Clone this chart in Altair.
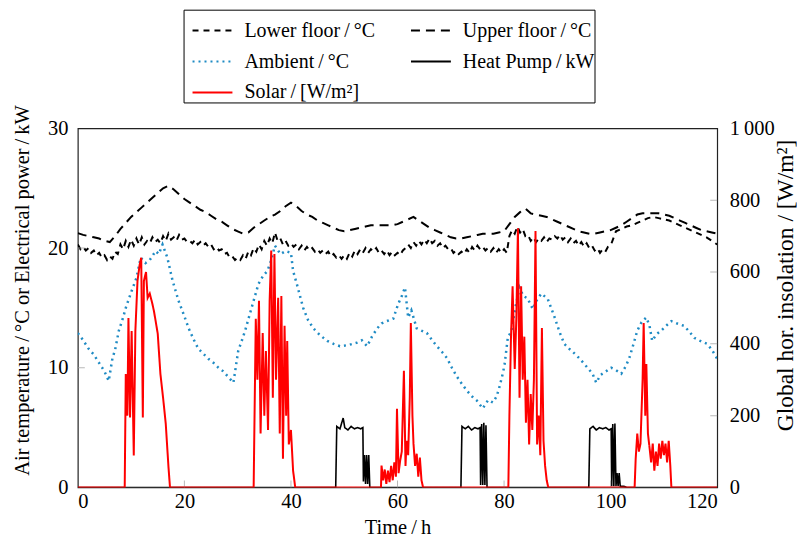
import altair as alt
import pandas as pd

# legend order is column-major: col 1 = Lower, Ambient, Solar; col 2 = Upper, Heat Pump
SERIES = ["Lower floor\u2009/\u2009°C", "Ambient\u2009/\u2009°C", "Solar\u2009/\u2009[W/m²]",
          "Upper floor\u2009/\u2009°C", "Heat Pump\u2009/\u2009kW"]
COLORS = ["#000000", "#1f8bc4", "#ff0000", "#000000", "#000000"]
DASHES = [[6, 5], [2, 4], [1, 0], [9, 6], [1, 0]]

# Lower floor (half-hourly 0..100, then hourly 101..120)
lower_t = [i * 0.5 for i in range(201)] + list(range(101, 121))
lower_v = [
    20.3, 19.9, 20.1, 19.8, 20.0, 19.6, 19.8, 19.4, 19.6, 19.2, 19.4, 19.0, 19.3, 19.1, 19.7, 19.5, 20.3, 19.9, 20.6, 20.1,
    20.7, 20.2, 20.8, 20.3, 20.9, 20.3, 20.6, 20.4, 20.9, 20.5, 20.7, 20.4, 21.0, 20.6, 21.2, 20.7, 20.9, 20.6, 21.1, 20.7,
    20.8, 20.5, 20.6, 20.4, 20.7, 20.3, 20.5, 20.2, 20.4, 20.1, 20.3, 19.9, 20.1, 19.8, 19.9, 19.5, 19.6, 19.2, 19.3, 19.0,
    19.2, 19.0, 19.4, 19.1, 19.7, 19.4, 20.0, 19.7, 20.3, 19.9, 20.6, 20.2, 20.8, 20.4, 21.3, 20.6, 20.8, 20.3, 20.6, 20.2,
    20.4, 20.1, 20.3, 19.9, 20.2, 19.8, 20.1, 19.8, 20.0, 19.7, 19.9, 19.6, 19.8, 19.5, 19.7, 19.3, 19.5, 19.2, 19.4, 19.1,
    19.4, 19.1, 19.6, 19.3, 19.8, 19.5, 19.9, 19.6, 20.0, 19.6, 19.9, 19.7, 20.0, 19.6, 19.8, 19.5, 19.8, 19.4, 19.7, 19.4,
    19.6, 19.4, 19.8, 20.0, 20.3, 20.0, 20.5, 20.2, 20.6, 20.3, 20.7, 20.4, 20.8, 20.4, 20.6, 20.2, 20.4, 20.0, 20.2, 19.9,
    20.0, 19.6, 19.8, 19.5, 19.7, 19.5, 19.9, 19.6, 20.1, 19.8, 20.2, 19.9, 20.1, 19.8, 20.0, 19.7, 20.0, 19.6, 19.9, 19.6,
    19.9, 19.6, 21.0, 21.5, 21.2, 21.8, 21.3, 21.6, 21.0, 21.1, 20.6, 20.9, 20.5, 20.8, 20.6, 20.9, 20.5, 20.8, 20.7, 21.0,
    20.8, 21.1, 20.7, 20.9, 20.5, 20.8, 20.4, 20.6, 20.2, 20.5, 20.1, 20.4, 20.0, 20.2, 19.8, 20.0, 19.6, 19.9, 19.7, 20.1,
    20.2,
    21.4, 21.6, 21.8, 21.9, 22.1, 22.3, 22.5, 22.6, 22.5, 22.4, 22.3, 22.1, 21.9, 21.7, 21.5, 21.3, 21.1, 20.9, 20.6, 20.3,
]

upper_t = list(range(121))
upper_v = [
    21.25, 21.1, 21.0, 20.9, 20.8, 20.6, 20.5, 21.0, 21.6, 22.1, 22.6, 23.0, 23.4, 23.8, 24.2, 24.6, 25.0, 25.2, 24.9, 24.5,
    24.1, 23.8, 23.5, 23.2, 23.0, 22.7, 22.4, 22.2, 21.9, 21.6, 21.4, 21.2, 21.3, 21.7, 22.0, 22.3, 22.6, 22.8, 23.1, 23.5,
    23.8, 23.5, 23.1, 22.8, 22.6, 22.3, 22.1, 21.9, 21.7, 21.5, 21.4, 21.5, 21.6, 21.7, 21.8, 21.9, 21.9, 21.9, 21.9, 21.9,
    22.0, 22.2, 22.4, 22.6, 22.3, 22.0, 21.7, 21.5, 21.3, 21.1, 20.9, 20.8, 20.8, 20.9, 21.0, 21.1, 21.2, 21.2, 21.2, 21.3,
    21.4, 22.0, 22.6, 23.0, 23.3, 22.9, 22.8, 22.7, 22.6, 22.4, 22.2, 22.0, 21.8, 21.6, 21.4, 21.3, 21.2, 21.2, 21.3, 21.4,
    21.5, 21.7, 21.9, 22.2, 22.5, 22.8, 22.9, 22.9, 22.9, 22.9, 22.8, 22.7, 22.5, 22.3, 22.1, 21.9, 21.7, 21.5, 21.4, 21.3,
    21.2,
]

amb_t = [0, 1, 2, 3, 4, 5, 5.8, 6.5, 7, 7.7, 8.5, 9, 10, 11, 11.8, 12.7, 13.5, 14.6, 15.2, 15.9, 16.8, 17.8, 18.9, 20,
         20.8, 21.7, 22.6, 23.5, 24.5, 25.5, 26.4, 27.3, 28.3, 29.2, 30.1, 30.8, 31.4, 32.1, 32.8, 33.9, 34.8, 35.6, 36.3,
         37, 38, 39, 40, 40.4, 41.1, 42.3, 43.2, 44.2, 45.5, 46.8, 48, 49.2, 50.8, 52.4, 53.3, 54.3, 55.2, 56.2, 57, 58,
         59.2, 60.1, 60.8, 61.4, 62, 62.6, 63.6, 64.5, 65.5, 66.5, 67.4, 68.4, 69.3, 70.2, 71.1, 72, 73, 74, 74.9, 76, 77,
         77.9, 78.6, 79.2, 79.8, 80.1, 80.7, 81.4, 82.1, 82.9, 83.6, 84.4, 85.4, 86.2, 87, 88.2, 89.5, 90.4, 91.3, 92.2,
         93.2, 94.1, 95.1, 96.6, 97.3, 98.1, 98.8, 100.1, 101, 102, 102.8, 103.5, 104.3, 105, 105.8, 106.7, 107.3, 107.8,
         108.6, 109.5, 110.4, 111.4, 112.5, 113.8, 114.8, 115.7, 117, 118.1, 119, 120]
amb_v = [12.9, 12.3, 11.6, 11.1, 10.4, 9.7, 8.9, 10.8, 11.5, 13.1, 14.2, 15.0, 16.3, 17.5, 19.2, 18.75, 19.0, 19.75, 19.5,
         20.3, 19.2, 17.25, 15.6, 14.3, 13.3, 12.4, 11.6, 11.2, 10.75, 10.4, 10.0, 9.7, 9.2, 8.75, 11.4, 12.3, 13.1, 14.2,
         15.3, 17.0, 17.7, 18.1, 19.0, 20.2, 19.5, 19.75, 19.6, 18.1, 17.0, 15.0, 14.0, 13.3, 12.7, 12.25, 12.0, 11.8, 11.9,
         12.1, 12.3, 11.8, 12.6, 13.3, 13.7, 13.9, 14.1, 15.3, 16.0, 16.7, 14.2, 14.8, 13.3, 13.1, 12.9, 12.3, 11.8, 11.3,
         10.8, 10.0, 9.3, 8.7, 8.1, 7.6, 7.25, 6.6, 7.3, 7.1, 7.6, 8.5, 9.6, 10.3, 12.5, 13.1, 15.0, 16.7, 16.0, 15.8, 14.9,
         15.7, 16.2, 15.75, 14.2, 13.0, 12.0, 11.6, 11.2, 10.8, 10.3, 9.5, 8.75, 9.4, 9.6, 10.0, 9.8, 9.5, 10.1, 10.8, 12.0,
         13.1, 13.8, 14.2, 13.5, 12.25, 12.8, 13.1, 13.5, 13.9, 13.7, 13.5, 13.0, 12.5, 12.2, 12.0, 11.5, 10.75]

hp_t = [0, 48.4, 48.6, 49.2, 49.8, 50.1, 50.7, 51.3, 51.9, 52.5, 53.1, 53.5, 53.6, 53.8, 54.0, 54.2, 54.4, 54.6, 54.8,
        71.9, 72.1, 72.7, 73.3, 73.9, 74.5, 75.1, 75.5, 75.6, 75.8, 76.0, 76.2, 76.4, 76.6, 76.8,
        95.9, 96.1, 96.7, 97.3, 97.9, 98.5, 99.1, 99.7, 100.1, 100.2, 100.4, 100.6, 100.8, 101.0, 101.2, 101.4, 101.6,
        101.8, 102.5, 103, 120]
hp_v = [0, 0, 5.1, 4.9, 5.8, 5.0, 4.8, 5.1, 4.9, 5.0, 4.9, 5.0, 0.5, 2.7, 0.3, 2.7, 0.3, 2.7, 0,
        0, 5.1, 4.9, 5.1, 4.8, 5.0, 4.9, 5.0, 0.2, 5.3, 0.2, 5.4, 0.2, 5.2, 0,
        0, 4.9, 5.1, 4.8, 5.0, 4.9, 5.0, 4.8, 4.9, 0.1, 5.3, 0.1, 5.35, 0.1, 1.2, 0.1, 1.2,
        0.1, 0.1, 0, 0]

sol_t = [0, 8.8, 9.0, 9.3, 9.5, 9.8, 10.1, 10.5, 10.8, 11.2, 11.6, 11.9, 12.2, 12.4, 12.8, 13.1, 13.5, 14.0, 14.3, 14.6,
         15.0, 15.5, 16.0, 16.5, 17.0, 17.3,
         33.0, 33.1, 33.4, 33.7, 34.0, 34.3, 34.7, 35.0, 35.3, 35.7, 36.0, 36.3, 36.6, 36.9, 37.2, 37.6, 37.9, 38.2, 38.5,
         38.8, 39.1, 39.3, 39.6, 40.0, 40.4, 40.8,
         56.9, 57.0, 57.3, 57.6, 57.9, 58.2, 58.5, 58.8, 59.1, 59.4, 59.7, 59.9, 60.2, 60.5, 60.8, 61.2, 61.5, 61.7, 62.0,
         62.3, 62.5, 62.8, 63.0, 63.3, 63.6, 63.9, 64.2, 64.5, 64.8,
         80.8, 81.0, 81.3, 81.6, 82.0, 82.3, 82.6, 82.9, 83.2, 83.5, 83.8, 84.1, 84.4, 84.7, 85.0, 85.3, 85.6, 85.9, 86.2,
         86.5, 86.8, 87.1, 87.4, 87.7, 88.0, 88.3,
         104.5, 104.7, 105.0, 105.3, 105.6, 106.0, 106.2, 106.5, 106.7, 107.0, 107.3, 107.6, 107.9, 108.2, 108.5, 108.8,
         109.1, 109.4, 109.7, 110.0, 110.3, 110.6, 110.9, 111.2, 111.4, 120]
sol_v = [0, 0, 316, 200, 472, 195, 436, 89, 436, 575, 620, 640, 195, 575, 600, 528, 540, 511, 490, 464,
         428, 316, 250, 178, 60, 0,
         0, 122, 470, 300, 520, 150, 430, 200, 380, 160, 520, 660, 250, 650, 300, 528, 150, 533, 80,
         450, 200, 408, 120, 160, 47, 0,
         0, 61, 20, 50, 10, 47, 15, 60, 20, 70, 30, 219, 40, 75, 100, 325, 60, 130, 90,
         250, 458, 200, 122, 60, 94, 30, 83, 20, 0,
         0, 200, 420, 560, 330, 470, 722, 250, 560, 300, 420, 180, 300, 120, 260, 160, 300, 714, 120,
         200, 90, 444, 130, 60, 20, 0,
         0, 80, 150, 100, 122, 300, 458, 200, 344, 150, 111, 70, 122, 47, 100, 60,
         122, 80, 130, 90, 122, 70, 130, 60, 0, 0]

X_TICKS = [0, 20, 40, 60, 80, 100, 120]
Y_TICKS = [0, 10, 20, 30]
Y2_TICKS = [0, 200, 400, 600, 800, 1000]

FONT = "Liberation Serif"
FS = 20.5


def frame(ts, vs, name):
    return pd.DataFrame({"t": ts, "v": vs, "series": name})


df_lower = frame(lower_t, lower_v, SERIES[0])
df_upper = frame(upper_t, upper_v, SERIES[3])
df_amb = frame(amb_t, amb_v, SERIES[1])
df_hp = frame(hp_t, hp_v, SERIES[4])
df_sol = frame(sol_t, sol_v, SERIES[2])

legend = alt.Legend(
    title=None, orient="none", legendX=106, legendY=-119, columns=2,
    strokeColor="black", fillColor="white", padding=0, cornerRadius=0,
    labelFont=FONT, labelFontSize=20, labelColor="black", labelOffset=11, labelLimit=300,
    symbolType="stroke", symbolSize=1600, symbolStrokeWidth=2, symbolOffset=8,
    rowPadding=0, columnPadding=27,
)
color = alt.Color("series:N", scale=alt.Scale(domain=SERIES, range=COLORS), legend=legend)
dash = alt.StrokeDash("series:N", scale=alt.Scale(domain=SERIES, range=DASHES), legend=legend)

x_enc = alt.X("t:Q", scale=alt.Scale(domain=[0, 120], nice=False),
              axis=alt.Axis(values=X_TICKS, title="Time\u2009/\u2009h", ticks=False, domain=False,
                            labelPadding=4, titlePadding=6, grid=False))
y_enc = alt.Y("v:Q", scale=alt.Scale(domain=[0, 30], nice=False),
              axis=alt.Axis(values=Y_TICKS, title="Air temperature\u2009/\u2009°C or Electrical power\u2009/\u2009kW",
                            ticks=False, domain=False, labelPadding=10, grid=False,
                            titleAngle=270, titleY=162, titleX=-55, titleBaseline="middle"))
y2_enc = alt.Y("v:Q", scale=alt.Scale(domain=[0, 1000], nice=False),
               axis=alt.Axis(values=Y2_TICKS, orient="right", title="Global hor. insolation / [W/m²]",
                             ticks=False, domain=False, labelPadding=12, grid=False,
                             titleAngle=270, titleY=157, titleX=68, titleBaseline="middle",
                             titleFontSize=23.5, labelAlign="left",
                             labelExpr="datum.value == 1000 ? '1\u2009000' : datum.label"))

floors = alt.Chart(pd.concat([df_lower, df_upper])).mark_line(strokeWidth=2, clip=True).encode(
    x=x_enc, y=y_enc, color=color, strokeDash=dash, detail="series:N")
amb = alt.Chart(df_amb).mark_line(strokeWidth=2.5, clip=True).encode(
    x=x_enc, y=y_enc, color=color, strokeDash=dash)
hp = alt.Chart(df_hp).mark_line(strokeWidth=1.6, clip=True).encode(
    x=x_enc, y=y_enc, color=color, strokeDash=dash)

xt_df = pd.DataFrame({"t": X_TICKS[1:-1], "v": [0] * (len(X_TICKS) - 2)})
yt_df = pd.DataFrame({"t": [0] * (len(Y_TICKS) - 2), "v": Y_TICKS[1:-1]})
xticks = alt.Chart(xt_df).mark_tick(orient="vertical", size=14, thickness=1, color="#9a9a9a", clip=True).encode(
    x=x_enc, y=y_enc)
yticks = alt.Chart(yt_df).mark_tick(orient="horizontal", size=14, thickness=1, color="#9a9a9a", clip=True).encode(
    x=x_enc, y=y_enc)

temp_group = alt.layer(floors, amb, hp, xticks, yticks)

sol = alt.Chart(df_sol).mark_line(strokeWidth=2, clip=True).encode(
    x=x_enc, y=y2_enc, color=color, strokeDash=dash)
y2t_df = pd.DataFrame({"t": [120] * (len(Y2_TICKS) - 2), "v": Y2_TICKS[1:-1]})
y2ticks = alt.Chart(y2t_df).mark_tick(orient="horizontal", size=14, thickness=1, color="#9a9a9a", clip=True).encode(
    x=x_enc, y=y2_enc)
sol_group = alt.layer(sol, y2ticks)

chart = alt.layer(temp_group, sol_group).resolve_scale(y="independent").properties(
    width=641, height=360, padding={"left": 4, "top": 0, "right": 0, "bottom": 5}
).configure_view(stroke="#222222", strokeWidth=1.2).configure_axis(
    labelFont=FONT, titleFont=FONT, labelFontSize=FS, titleFontSize=FS,
    labelColor="black", titleColor="black", titleFontWeight="normal"
)

chart.save("out.html", embed_options={"renderer": "svg", "actions": False})
